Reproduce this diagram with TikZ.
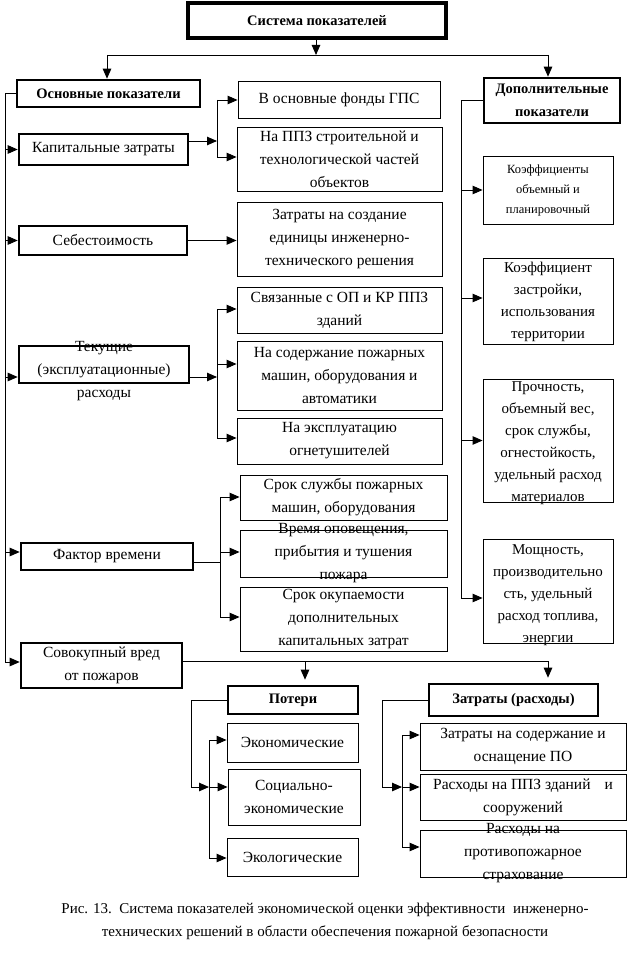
\documentclass[tikz,border=0pt]{standalone}
\usepackage{fontspec}
\setmainfont{Liberation Serif}
\usetikzlibrary{arrows.meta,fit,calc}
\newcommand\fA{\fontsize{15.5}{23}\selectfont}
\newcommand\fB{\fontsize{14.5}{23}\selectfont\bfseries}
\newcommand\fC{\fontsize{12.5}{20}\selectfont}
\newcommand\fD{\fontsize{15}{22}\selectfont}
\newcommand\fCap{\fontsize{15}{23}\selectfont}
\begin{document}
\begin{tikzpicture}[x=1pt,y=-1pt,
  bx/.style={draw, line width=0.9pt, inner sep=0pt},
  tbx/.style={draw, line width=2.6pt, inner sep=0pt},
  txt/.style={align=center, inner sep=0pt, font=\fA},
  rtx/.style={align=center, inner sep=0pt, font=\fD},
  hd/.style={align=center, inner sep=0pt, font=\fB},
  arr/.style={draw, line width=0.9pt, -{Triangle[length=10pt,width=8.5pt]}},
  ln/.style={draw, line width=0.9pt}]
\useasboundingbox (0,0) rectangle (639,957);

% ---------- title ----------
\node[tbx, line width=3.2pt, fit={(188,3)(446,38)}] (sys) {};
\node[hd] (syst) at (sys.center) {Система показателей};

\node[tbx, fit={(17,80)(200,107)}] (osn) {};
\node[hd] (osnt) at (osn.center) {Основные показатели};
\node[tbx, fit={(484,78)(620,123)}] (dop) {};
\node[hd] (dopt) at (dop.center) {Дополнительные\\показатели};

\coordinate (jt) at (316,55);
\coordinate (jl) at (107,55);
\coordinate (jr) at (548,55);
\draw[arr] (sys.south -| jt) -- (jt);
\draw[ln] (jl) -- (jr);
\draw[arr] (jl) -- (jl |- osn.north);
\draw[arr] (jr) -- (jr |- dop.north);

% ---------- left column ----------
\node[tbx, fit={(19,134)(188,165)}] (kap) {};
\node[txt] (kapt) at (kap.center) {Капитальные затраты};
\node[tbx, fit={(19,226)(187,255)}] (seb) {};
\node[txt] (sebt) at (seb.center) {Себестоимость};
\node[tbx, fit={(19,346)(189,383)}] (tek) {};
\node[txt] (tekt) at ($(tek.center)+(0,7)$) {Текущие\\(эксплуатационные)\\расходы};
\node[tbx, fit={(21,543)(193,570)}] (fak) {};
\node[txt] (fakt) at (fak.center) {Фактор времени};
\node[tbx, fit={(21,643)(182,688)}] (sov) {};
\node[txt] (sovt) at (sov.center) {Совокупный вред\\от пожаров};

\coordinate (tr0) at (5,93.5);
\coordinate (tr1) at (5,662);
\draw[ln] (osn.west) -- (tr0) -- (tr1);
\draw[arr] (tr0 |- kap.west) -- (kap.west);
\draw[arr] (tr0 |- seb.west) -- (seb.west);
\draw[arr] (5,377) -- (tek.west |- 0,377);
\draw[arr] (5,552) -- (fak.west |- 0,552);
\draw[arr] (tr1) -- (sov.west |- tr1);

% ---------- middle column ----------
\node[bx, fit={(238,81)(440,118)}] (m1) {};
\node[txt] (m1t) at (m1.center) {В основные фонды ГПС};
\node[bx, fit={(237,127)(442,191)}] (m2) {};
\node[txt] (m2t) at (m2.center) {На ППЗ строительной и\\технологической частей\\объектов};
\node[bx, fit={(237,202)(442,276)}] (m3) {};
\node[txt] (m3t) at (m3.center) {Затраты на создание\\единицы инженерно-\\технического решения};
\node[bx, fit={(237,287)(442,333)}] (m4) {};
\node[txt] (m4t) at (m4.center) {Связанные с ОП и КР ППЗ\\зданий};
\node[bx, fit={(237,341)(442,410)}] (m5) {};
\node[txt] (m5t) at (m5.center) {На содержание пожарных\\машин, оборудования и\\автоматики};
\node[bx, fit={(237,418)(442,464)}] (m6) {};
\node[txt] (m6t) at (m6.center) {На эксплуатацию\\огнетушителей};
\node[bx, fit={(240,475)(447,520)}] (m7) {};
\node[txt] (m7t) at (m7.center) {Срок службы пожарных\\машин, оборудования};
\node[bx, fit={(240,530)(447,577)}] (m8) {};
\node[txt] (m8t) at (m8.center) {Время оповещения,\\прибытия и тушения\\пожара};
\node[bx, fit={(240,587)(447,651)}] (m9) {};
\node[txt] (m9t) at (m9.center) {Срок окупаемости\\дополнительных\\капитальных затрат};

% capital costs branch
\coordinate (ka) at (217,100);
\coordinate (kb) at (217,157);
\draw[arr] (kap.east |- 0,141) -- (217,141);
\draw[ln] (ka) -- (kb);
\draw[arr] (ka) -- (ka -| m1.west);
\draw[arr] (kb) -- (kb -| m2.west);
% cost price
\draw[arr] (seb.east) -- (seb.east -| m3.west);
% current costs branch
\coordinate (ta) at (217,309);
\coordinate (tb) at (217,364);
\coordinate (tc) at (217,438);
\draw[arr] (tek.east |- 0,377) -- (217,377);
\draw[ln] (ta) -- (tc);
\draw[arr] (ta) -- (ta -| m4.west);
\draw[arr] (tb) -- (tb -| m5.west);
\draw[arr] (tc) -- (tc -| m6.west);
% time factor branch
\coordinate (fa) at (220,497);
\coordinate (fb) at (220,552);
\coordinate (fc) at (220,617);
\draw[ln] (fak.east |- 0,562) -- (220,562);
\draw[ln] (fa) -- (fc);
\draw[arr] (fa) -- (fa -| m7.west);
\draw[arr] (fb) -- (fb -| m8.west);
\draw[arr] (fc) -- (fc -| m9.west);

% ---------- right column ----------
\node[bx, fit={(483,156)(613,224)}] (r1) {};
\node[align=center, inner sep=0pt, font=\fC] (r1t) at (r1.center) {Коэффициенты\\объемный и\\планировочный};
\node[bx, fit={(483,258)(613,344)}] (r2) {};
\node[rtx] (r2t) at ($(r2.center)+(0,1)$) {Коэффициент\\застройки,\\использования\\территории};
\node[bx, fit={(483,379)(613,502)}] (r3) {};
\node[rtx] (r3t) at ($(r3.center)+(0,3)$) {Прочность,\\объемный вес,\\срок службы,\\огнестойкость,\\удельный расход\\материалов};
\node[bx, fit={(483,539)(613,643)}] (r4) {};
\node[rtx] (r4t) at ($(r4.center)+(0,4)$) {Мощность,\\производительно\\сть, удельный\\расход топлива,\\энергии};

\coordinate (ra) at (461,100.5);
\coordinate (rb) at (461,598);
\draw[ln] (dop.west) -- (ra) -- (rb);
\draw[arr] (ra |- r1.west) -- (r1.west);
\draw[arr] (461,298) -- (r2.west |- 0,298);
\draw[arr] (ra |- r3.west) -- (r3.west);
\draw[arr] (rb) -- (r4.west |- rb);

% ---------- bottom ----------
\node[tbx, fit={(228,686)(358,714)}] (pot) {};
\node[hd] (pott) at (pot.center) {Потери};
\node[tbx, fit={(429,684)(598,716)}] (zr) {};
\node[hd] (zrt) at (zr.center) {Затраты (расходы)};

\coordinate (sa) at (305,661);
\coordinate (sb) at (548,661);
\draw[ln] (sov.east |- sa) -- (sb);
\draw[arr] (sa) -- ($(sa |- pot.north)+(0,-5)$);
\draw[arr] (sb) -- ($(sb |- zr.north)+(0,-5)$);

\node[bx, fit={(227,723)(358,762)}] (p1) {};
\node[txt] (p1t) at (p1.center) {Экономические};
\node[bx, fit={(228,769)(360,825)}] (p2) {};
\node[txt] (p2t) at (p2.center) {Социально-\\экономические};
\node[bx, fit={(227,838)(358,876)}] (p3) {};
\node[txt] (p3t) at (p3.center) {Экологические};

\coordinate (pa) at (191,700);
\coordinate (pb) at (191,787);
\coordinate (pc) at (209,740);
\coordinate (pd) at (209,787);
\coordinate (pe) at (209,858);
\draw[ln] (pot.west) -- (pa) -- (pb);
\draw[arr] (pb) -- (pd);
\draw[ln] (pc) -- (pe);
\draw[arr] (pc) -- (pc -| p1.west);
\draw[arr] (pd) -- (pd -| p2.west);
\draw[arr] (pe) -- (pe -| p3.west);

\node[bx, fit={(420,723)(626,770)}] (z1) {};
\node[txt] (z1t) at (z1.center) {Затраты на содержание и\\оснащение ПО};
\node[bx, fit={(420,774)(626,820)}] (z2) {};
\node[txt] (z2t) at (z2.center) {Расходы на ППЗ зданий\hspace{14pt}и\\сооружений};
\node[bx, fit={(420,830)(626,877)}] (z3) {};
\node[txt] (z3t) at (z3.center) {Расходы на\\противопожарное\\страхование};

\coordinate (za) at (382,700);
\coordinate (zb) at (382,787);
\coordinate (zc) at (402,735);
\coordinate (zd) at (402,787);
\coordinate (ze) at (402,847);
\draw[ln] (zr.west) -- (za) -- (zb);
\draw[arr] (zb) -- (zd);
\draw[ln] (zc) -- (ze);
\draw[arr] (zc) -- (zc -| z1.west);
\draw[arr] (zd) -- (zd -| z2.west);
\draw[arr] (ze) -- (ze -| z3.west);

% ---------- caption ----------
\node[align=center, inner sep=0pt, font=\fCap] (cap) at (325,921)
 {Рис. 13.\ \ Система показателей экономической оценки эффективности\ \ инженерно-\\технических решений в области обеспечения пожарной безопасности};
\end{tikzpicture}
\end{document}
